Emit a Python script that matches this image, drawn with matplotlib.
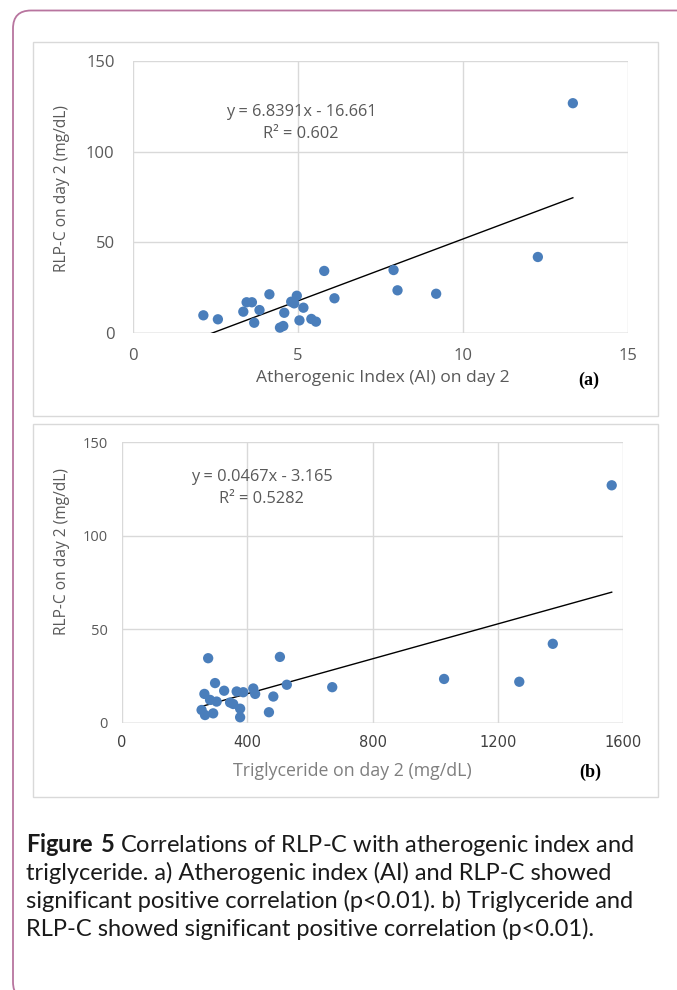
import matplotlib
matplotlib.use("Agg")
import matplotlib.pyplot as plt
import numpy as np
from matplotlib.patches import FancyBboxPatch, Rectangle
from matplotlib.transforms import IdentityTransform

# ---------------- data ----------------
ai_x = [2.14, 2.58, 3.45, 3.61, 3.35, 3.84, 3.68, 4.14, 4.59, 4.46, 4.56, 4.80, 4.97,
        4.89, 5.17, 5.05, 5.41, 5.55, 5.80, 6.11, 13.33, 7.90, 8.02, 9.19, 12.27]
ai_y = [9.6, 7.4, 16.8, 16.8, 11.6, 12.5, 5.5, 21.2, 11.0, 2.8, 3.7, 17.1, 20.4,
        16.2, 13.8, 6.8, 7.6, 6.1, 34.1, 19.0, 126.7, 34.6, 23.4, 21.5, 41.8]
ai_slope, ai_icpt = 6.8391, -16.661
ai_eq = "y = 6.8391x - 16.661"
ai_r2 = "R² = 0.602"

tg_x = [275, 504, 297, 263, 326, 366, 387, 419, 425, 483, 526, 671, 469, 377, 377,
        281, 302, 345, 355, 254, 265, 291, 1563, 1375, 1028, 1268]
tg_y = [34.5, 35.2, 21.2, 15.4, 17.1, 16.7, 16.3, 18.3, 15.4, 14.0, 20.3, 19.0, 5.6,
        7.5, 2.9, 12.2, 11.3, 10.8, 10.0, 6.8, 4.1, 5.0, 127.0, 42.2, 23.4, 21.9]
tg_slope, tg_icpt = 0.0467, -3.165
tg_eq = "y = 0.0467x - 3.165"
tg_r2 = "R² = 0.5282"

ai_xticks = [0, 5, 10, 15]
tg_xticks = [0, 400, 800, 1200, 1600]
yticks = [0, 50, 100, 150]

ylabel = "RLP-C on day 2 (mg/dL)"
ai_xlabel = "Atherogenic Index (AI) on day 2"
tg_xlabel = "Triglyceride on day 2 (mg/dL)"

W, H = 677, 990
fig = plt.figure(figsize=(W / 100, H / 100), dpi=100)
fig.patch.set_facecolor("white")

def fx(px):
    return px / W

def fy(py):
    return 1 - py / H

# outer rounded frame (pixel coords)
frame = FancyBboxPatch((13, H - 1000), 700, 1000 - 10.5,
                       boxstyle="round,pad=0,rounding_size=18",
                       transform=IdentityTransform(), fill=False,
                       edgecolor="#B8759F", linewidth=1.3, zorder=0)
fig.patches.append(frame)

# panel boxes
for top, bot in [(42, 416), (424, 797)]:
    r = Rectangle((fx(33), fy(bot)), fx(658) - fx(33), fy(top) - fy(bot),
                  transform=fig.transFigure, fill=False,
                  edgecolor="#D9D9D9", linewidth=1.0, zorder=0)
    fig.patches.append(r)

BLUE = "#4A7EBB"
GRID = "#D9D9D9"
TXT = "#595959"
FONT = "Open Sans"

def style(ax):
    ax.set_facecolor("none")
    for s in ax.spines.values():
        s.set_visible(False)
    ax.grid(True, color=GRID, linewidth=1.0, zorder=0)
    ax.tick_params(length=0, colors=TXT)

# ---------------- panel (a) ----------------
axa = fig.add_axes([fx(132.7), fy(332.7), fx(628) - fx(132.7), fy(61) - fy(332.7)])
style(axa)
axa.set_xlim(0, 15)
axa.set_ylim(0, 150)
axa.set_xticks(ai_xticks)
axa.set_yticks(yticks)
axa.set_xticklabels([str(t) for t in ai_xticks], fontsize=12, family=FONT, color=TXT)
axa.set_yticklabels([str(t) for t in yticks], fontsize=12, family=FONT, color=TXT)
axa.tick_params(axis="x", pad=11)
axa.tick_params(axis="y", pad=13)
axa.axhline(0, color="#BFBFBF", linewidth=1.0, zorder=1)
xs = np.array([min(ai_x), max(ai_x)])
axa.plot(xs, ai_slope * xs + ai_icpt, color="black", linewidth=1.0, zorder=2)
axa.scatter(ai_x, ai_y, s=55, color=BLUE, edgecolors="none", zorder=3)
axa.text(0.34, 0.813, ai_eq, transform=axa.transAxes, ha="center", va="center",
         fontsize=11.8, family=FONT, color=TXT)
axa.text(0.34, 0.731, ai_r2, transform=axa.transAxes, ha="center", va="center",
         fontsize=11.8, family=FONT, color=TXT)
axa.set_ylabel(ylabel, fontsize=11.2, family=FONT, color=TXT)
axa.yaxis.set_label_coords(-0.1266, 0.531)
fig.text(fx(383), fy(378), ai_xlabel, ha="center", va="center",
         fontsize=12.6, family=FONT, color=TXT)
fig.text(fx(589), fy(380), "(a)", ha="center", va="center",
         fontsize=13, family="Liberation Serif", weight="bold", color="black")

# ---------------- panel (b) ----------------
axb = fig.add_axes([fx(122), fy(722.7), fx(623.3) - fx(122), fy(442.3) - fy(722.7)])
style(axb)
axb.set_xlim(0, 1600)
axb.set_ylim(0, 150)
axb.set_xticks(tg_xticks)
axb.set_yticks(yticks)
axb.set_xticklabels([str(t) for t in tg_xticks], fontsize=10.5,
                    family=["Liberation Sans Narrow", "DejaVu Sans"], color="#404040")
axb.set_yticklabels([str(t) for t in yticks], fontsize=10.5, family=FONT, color=TXT)
axb.tick_params(axis="x", pad=9)
axb.tick_params(axis="y", pad=10)
axb.axhline(0, color="#BFBFBF", linewidth=1.0, zorder=1)
xs = np.array([min(tg_x), max(tg_x)])
axb.plot(xs, tg_slope * xs + tg_icpt, color="black", linewidth=1.0, zorder=2)
axb.scatter(tg_x, tg_y, s=55, color=BLUE, edgecolors="none", zorder=3)
axb.text(0.279, 0.877, tg_eq, transform=axb.transAxes, ha="center", va="center",
         fontsize=11.8, family=FONT, color=TXT)
axb.text(0.279, 0.797, tg_r2, transform=axb.transAxes, ha="center", va="center",
         fontsize=11.8, family=FONT, color=TXT)
axb.set_ylabel(ylabel, fontsize=11.2, family=FONT, color=TXT)
axb.yaxis.set_label_coords(-0.1037, 0.61)
fig.text(fx(352), fy(771), tg_xlabel, ha="center", va="center",
         fontsize=12.8, family=FONT, color="#7F7F7F")
fig.text(fx(590), fy(772), "(b)", ha="center", va="center",
         fontsize=13, family="Liberation Serif", weight="bold", color="black")

# ---------------- caption ----------------
plt.rcParams["mathtext.fontset"] = "custom"
plt.rcParams["mathtext.bf"] = "Lato:bold"
plt.rcParams["mathtext.rm"] = "Lato"
cap_lines = [
    r"$\bf{Figure\ 5}$ Correlations of RLP-C with atherogenic index and",
    "triglyceride. a) Atherogenic index (AI) and RLP-C showed",
    "significant positive correlation (p<0.01). b) Triglyceride and",
    "RLP-C showed significant positive correlation (p<0.01).",
]
for i, line in enumerate(cap_lines):
    fig.text(fx(26), fy(845 + 28 * i), line, ha="left", va="center",
             fontsize=17, family="Lato", color="#1a1a1a")

fig.savefig("out.png", dpi=100)
